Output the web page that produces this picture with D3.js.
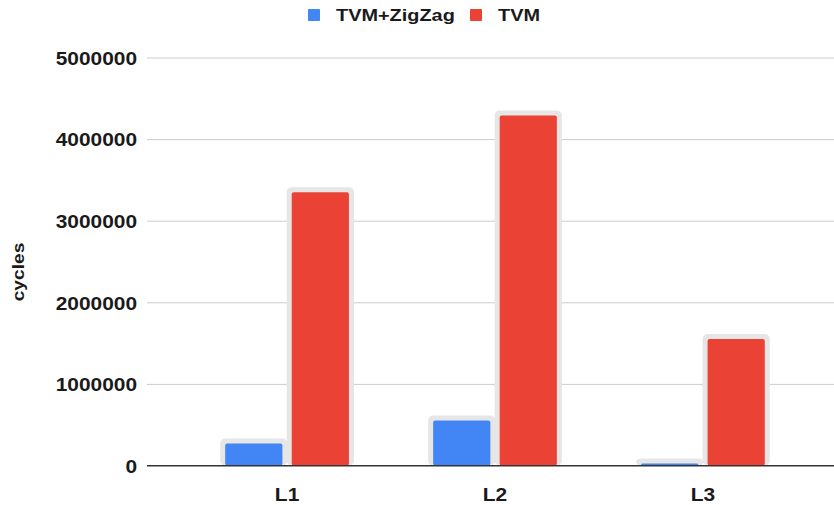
<!DOCTYPE html>
<html>
<head>
<meta charset="utf-8">
<script src="https://cdn.jsdelivr.net/npm/d3@7"></script>
<style>
  body { margin: 0; background: #fff; }
  text { font-family: "Liberation Sans", Arial, sans-serif; fill: #1a1a1a; font-weight: bold; }
</style>
</head>
<body>
<div id="wrapper"></div>
<script>
// data
const categories = ["L1", "L2", "L3"]
const seriesNames = ["TVM+ZigZag", "TVM"]
const zigzagValues = [270000, 550000, 25000]
const tvmValues = [3350000, 4290000, 1550000]
const yTicks = [0, 1000000, 2000000, 3000000, 4000000, 5000000]
const colors = ["#4285f4", "#ea4335"]

// the reference text is a bit wider than Liberation Sans, stretch it a little
const stretch = 1.1

function drawBars() {
    const dimensions = {
        width: 834,
        height: 505,
        margin: { top: 57, right: 0, bottom: 40, left: 147 },
    }
    dimensions.boundedWidth = dimensions.width - dimensions.margin.left - dimensions.margin.right
    dimensions.boundedHeight = dimensions.height - dimensions.margin.top - dimensions.margin.bottom

    const svg = d3.select("#wrapper")
        .append("svg")
        .attr("width", dimensions.width)
        .attr("height", dimensions.height)

    const bounds = svg.append("g")
        .attr("transform", `translate(${dimensions.margin.left}, ${dimensions.margin.top})`)

    // scales
    const yScale = d3.scaleLinear()
        .domain([0, 5000000])
        .range([dimensions.boundedHeight + 0.5, 0.5])

    const xScale = d3.scaleBand()
        .domain(categories)
        .range([36, 660])
        .paddingInner(0.405)
        .paddingOuter(0.203)

    const xSub = d3.scaleBand()
        .domain(seriesNames)
        .range([0, xScale.bandwidth()])
        .paddingInner(0.14)

    // grid + y axis
    const yAxis = d3.axisLeft(yScale)
        .tickValues(yTicks)
        .tickFormat(d3.format("d"))
        .tickSize(-dimensions.boundedWidth)

    const yAxisGroup = bounds.append("g").call(yAxis)
    yAxisGroup.select(".domain").remove()
    yAxisGroup.selectAll(".tick line")
        .attr("stroke", d => d === 0 ? "#333" : "#cccccc")
        .attr("stroke-width", 1)
    yAxisGroup.selectAll(".tick text")
        .attr("x", -10 / stretch)
        .attr("dy", "0.36em")
        .attr("transform", `scale(${stretch}, 1)`)
        .style("font-size", "19px")
        .style("font-family", "'Liberation Sans', Arial, sans-serif")
        .style("font-weight", "bold")
        .attr("fill", "#1a1a1a")

    // bars
    const rows = categories.map((c, i) => ({
        cat: c,
        values: [zigzagValues[i], tvmValues[i]],
    }))

    const groups = bounds.selectAll(".group")
        .data(rows)
        .enter().append("g")
        .attr("transform", d => `translate(${xScale(d.cat)}, 0)`)

    const barData = d => d.values.map((v, i) => ({ series: seriesNames[i], value: v, color: colors[i] }))

    // highlight halo behind bars
    groups.selectAll(".halo")
        .data(barData)
        .enter().append("rect")
        .attr("x", d => xSub(d.series) - 5)
        .attr("y", d => yScale(d.value) - 5)
        .attr("width", xSub.bandwidth() + 10)
        .attr("height", d => yScale(0) - yScale(d.value) + 5)
        .attr("rx", 5)
        .attr("fill", "#e6e6e6")

    groups.selectAll(".bar")
        .data(barData)
        .enter().append("rect")
        .attr("x", d => xSub(d.series))
        .attr("y", d => yScale(d.value))
        .attr("width", xSub.bandwidth())
        .attr("height", d => yScale(0) - yScale(d.value))
        .attr("rx", 2)
        .attr("fill", d => d.color)

    // baseline on top
    bounds.append("line")
        .attr("x1", 0)
        .attr("x2", dimensions.boundedWidth)
        .attr("y1", yScale(0))
        .attr("y2", yScale(0))
        .attr("stroke", "#333")

    // x labels
    bounds.selectAll(".xlabel")
        .data(categories)
        .enter().append("text")
        .attr("transform", d => `translate(${xScale(d) + xScale.bandwidth() / 2}, ${dimensions.boundedHeight + 36}) scale(${stretch}, 1)`)
        .attr("text-anchor", "middle")
        .style("font-size", "19px")
        .text(d => d)

    // y title
    svg.append("text")
        .attr("transform", `translate(24, 272) rotate(-90) scale(1.2, 1)`)
        .attr("text-anchor", "middle")
        .style("font-size", "16px")
        .text("cycles")

    // legend
    const legendItems = [
        { name: seriesNames[0], color: colors[0], x: 308 },
        { name: seriesNames[1], color: colors[1], x: 470 },
    ]
    const legend = svg.selectAll(".legend")
        .data(legendItems)
        .enter().append("g")
        .attr("transform", d => `translate(${d.x}, 9)`)
    legend.append("rect")
        .attr("width", 12)
        .attr("height", 12)
        .attr("rx", 1)
        .attr("fill", d => d.color)
    legend.append("text")
        .attr("transform", `translate(28, 12) scale(1.17, 1)`)
        .style("font-size", "17px")
        .text(d => d.name)
}

drawBars()
</script>
</body>
</html>
